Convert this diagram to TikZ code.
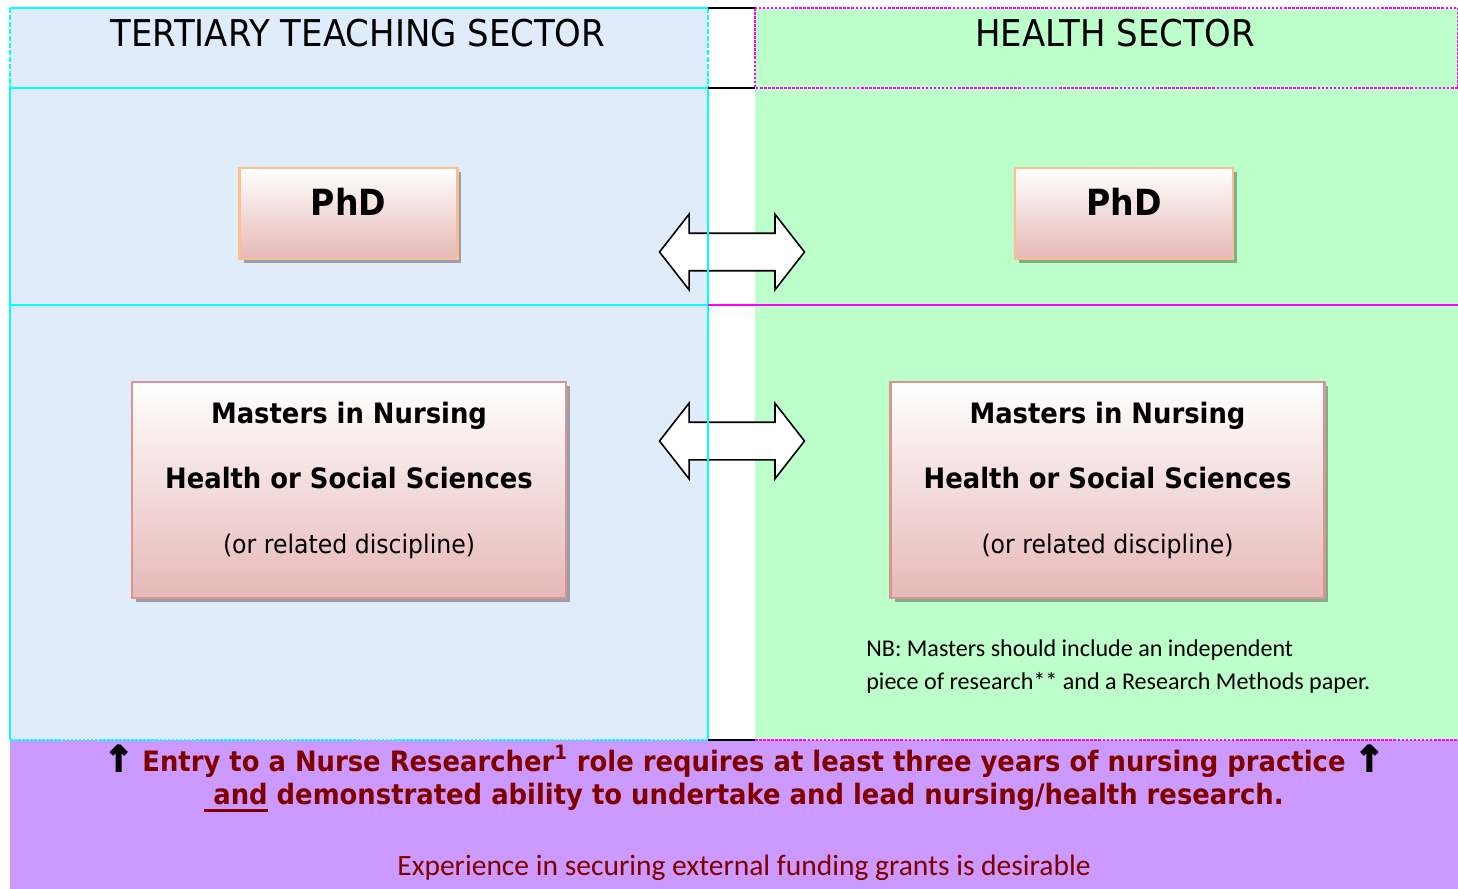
\documentclass[tikz,border=0pt]{standalone}
\usepackage{fontspec}
\setmainfont{DejaVu Sans}[FakeStretch=0.92]
\newfontfamily\notefont{Carlito}
\newfontfamily\arrowfont{DejaVu Sans Bold}[FakeBold=5]
\usetikzlibrary{shapes.arrows,shadows}

\definecolor{tertblue}{HTML}{E0ECFA}
\definecolor{healthgreen}{HTML}{BDFFCA}
\definecolor{bandpurple}{HTML}{CC99FF}
\definecolor{linecyan}{HTML}{00FFFF}
\definecolor{linemag}{HTML}{FF00FF}
\definecolor{boxpink}{HTML}{E6B8B7}
\definecolor{phdedge}{HTML}{FAC090}
\definecolor{mastedge}{HTML}{D99594}
\definecolor{bandred}{HTML}{800000}

\newcommand{\uparr}{{\color{black}\arrowfont\fontsize{20}{18}\selectfont↑}}
\newcommand{\thickul}[1]{\setbox0\hbox{#1}\rlap{\rule[-4.4pt]{\wd0}{1.6pt}}\box0\relax}

\tikzset{
  headtext/.style={anchor=base, font=\fontsize{21}{25}\selectfont},
  degbox/.style={line width=1.2pt, top color=white, bottom color=boxpink, align=center,
    drop shadow={shadow xshift=0.08cm, shadow yshift=-0.08cm, fill=black, opacity=0.32}},
  phdbox/.style={degbox, draw=phdedge, minimum width=4.36cm, minimum height=1.82cm,
    text depth=13pt, font=\bfseries\fontsize{20.5}{24}\selectfont},
  mastbox/.style={degbox, draw=mastedge, minimum width=8.68cm, minimum height=4.32cm,
    text depth=13.6pt, font=\bfseries\fontsize{16}{18.6}\selectfont},
  swaparrow/.style={double arrow, draw=black, fill=white, line width=0.9pt,
    minimum height=2.9cm, inner xsep=0pt, inner ysep=0.36cm,
    double arrow head extend=0.38cm, double arrow tip angle=104},
  bandtext/.style={anchor=base, text=bandred, font=\bfseries\fontsize{16}{18}\selectfont},
}

\begin{document}
\begin{tikzpicture}[x=0.02cm, y=-0.02cm]
\useasboundingbox (0,0) rectangle (1458,889);
% sector panels and the bottom band
\fill[tertblue] (10,8) rectangle (708,740);
\fill[healthgreen] (755,8) rectangle (1458,740);
\fill[bandpurple] (10,740) rectangle (1458,889);

% two-way arrows between the sectors
\node[swaparrow] (phdSwap) at (732,252) {};
\node[swaparrow] (mastSwap) at (732,441) {};

% frame of the tertiary sector
\draw[linecyan, line width=1.1pt] (10,8) -- (708,8) (10,88) -- (708,88);
\draw[linecyan, line width=0.8pt, dash pattern=on 3pt off 1pt] (10,8) -- (10,88) (708,8) -- (708,88);
\draw[linecyan, line width=0.6pt] (10,88) -- (10,740);
\draw[linecyan, line width=1.7pt] (708,88) -- (708,740);
\draw[linecyan, line width=1.1pt] (10,305) -- (708,305);
\draw[linecyan, line width=1pt, dash pattern=on 1.5pt off 0.8pt] (10,740) -- (708,740);
% frame of the health sector
\draw[linemag, line width=1pt, dash pattern=on 1.5pt off 0.8pt] (755,8) rectangle (1458,88);
\draw[linemag, line width=1.1pt] (708,305) -- (1458,305);
\draw[linemag, line width=1pt, dash pattern=on 1.5pt off 0.8pt] (755,740) -- (1458,740);
% gap between them
\draw[black, line width=1.1pt] (708,8) -- (755,8) (708,88) -- (755,88) (708,740) -- (755,740);

% headers
\node[headtext] (tertHead) at (358,47) {TERTIARY TEACHING SECTOR};
\node[headtext] (healthHead) at (1115,47) {HEALTH SECTOR};

% degrees
\node[phdbox] (phdTert) at (348.5,213.5) {PhD};
\node[phdbox] (phdHealth) at (1124,213.5) {PhD};
\node[mastbox] (mastTert) at (349,490)
  {Masters in Nursing\\[18.5pt]Health or Social Sciences\\[18.5pt]\mdseries\fontsize{14.6}{18.6}\selectfont(or related discipline)};
\node[mastbox] (mastHealth) at (1107.5,490)
  {Masters in Nursing\\[18.5pt]Health or Social Sciences\\[18.5pt]\mdseries\fontsize{14.6}{18.6}\selectfont(or related discipline)};

\node[anchor=north west, inner sep=0pt, align=left, font=\notefont\fontsize{13.7}{19}\selectfont] (nbNote) at (866,639)
  {NB: Masters should include an independent\\piece of research** and a Research Methods paper.};

% entry requirements
\node[bandtext] (entryLine) at (744,771)
  {\uparr\ Entry to a Nurse Researcher\textsuperscript{1} role requires at least three years of nursing practice \uparr};
\node[bandtext] (abilityLine) at (744,804)
  {\thickul{\ and} demonstrated ability to undertake and lead nursing/health research.};
\node[anchor=base, text=bandred, font=\notefont\fontsize{16.8}{19}\selectfont] (fundingLine) at (744,875)
  {Experience in securing external funding grants is desirable};
\end{tikzpicture}
\end{document}
